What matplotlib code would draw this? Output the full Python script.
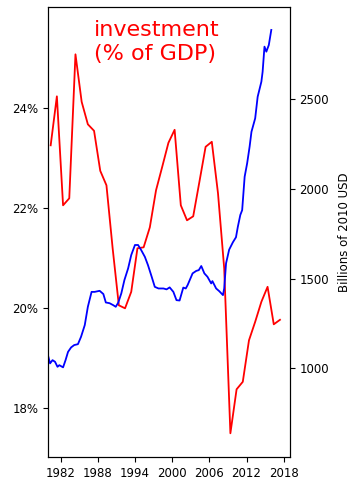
#!/usr/bin/env python3
"""Investment share of GDP (left, %) against real investment (right, billions of 2010 USD)."""

import matplotlib
matplotlib.use("Agg")
import matplotlib.pyplot as plt
from matplotlib.ticker import FuncFormatter

# annual investment, % of GDP
inv_years = list(range(1980, 2018))
inv_share = [
    23.26, 24.24, 22.06, 22.20, 25.08, 24.13, 23.68, 23.55, 22.75, 22.46,
    21.20, 20.06, 20.00, 20.33, 21.20, 21.22, 21.62, 22.36, 22.83, 23.31,
    23.57, 22.06, 21.76, 21.84, 22.53, 23.23, 23.33, 22.30, 20.80, 17.50,
    18.38, 18.53, 19.36, 19.73, 20.13, 20.43, 19.68, 19.77,
]

# investment level, billions of 2010 USD (read roughly quarterly)
lvl_years = [
    1980.0, 1980.3, 1980.7, 1981.1, 1981.5, 1981.8, 1982.4, 1982.8, 1983.2, 1983.7,
    1984.2, 1984.8, 1985.3, 1985.9, 1986.4, 1987.0, 1987.5, 1988.3, 1988.9, 1989.3,
    1989.9, 1990.5, 1990.9, 1991.3, 1991.8, 1992.3, 1992.9, 1993.4, 1994.0, 1994.5,
    1995.0, 1995.6, 1996.1, 1996.7, 1997.2, 1997.8, 1998.6, 1999.1, 1999.6, 2000.2,
    2000.7, 2001.2, 2001.8, 2002.2, 2002.5, 2003.3, 2003.9, 2004.3, 2004.7, 2005.2,
    2005.7, 2006.3, 2006.5, 2007.1, 2007.6, 2008.2, 2008.4, 2008.7, 2009.2, 2009.8,
    2010.3, 2010.6, 2011.0, 2011.3, 2011.7, 2012.1, 2012.5, 2012.8, 2013.4, 2013.8,
    2014.4, 2014.6, 2014.9, 2015.2, 2015.6, 2016.0,
]
lvl_values = [
    1068, 1028, 1046, 1037, 1009, 1018, 1006, 1046, 1092, 1117,
    1130, 1135, 1176, 1241, 1343, 1426, 1426, 1432, 1414, 1367,
    1363, 1352, 1343, 1366, 1418, 1492, 1557, 1631, 1687, 1687,
    1659, 1621, 1575, 1510, 1454, 1445, 1445, 1440, 1451, 1426,
    1380, 1378, 1450, 1445, 1464, 1529, 1543, 1547, 1570, 1529,
    1510, 1473, 1486, 1445, 1430, 1408, 1445, 1585, 1661, 1702,
    1730, 1788, 1854, 1881, 2067, 2141, 2234, 2317, 2392, 2512,
    2596, 2651, 2791, 2763, 2800, 2884,
]

x_ticks = [1982, 1988, 1994, 2000, 2006, 2012, 2018]
left_ticks = [18, 20, 22, 24]
right_ticks = [1000, 1500, 2000, 2500]


def main() -> None:
    fig = plt.figure(figsize=(3.57, 4.87), dpi=100)
    ax = fig.add_axes([0.135, 0.062, 0.677, 0.923])
    ax2 = ax.twinx()

    # annual points sit around mid-year
    ax.plot([y + 0.4 for y in inv_years], inv_share, color="red", lw=1.3)
    ax2.plot(lvl_years, lvl_values, color="blue", lw=1.3)

    ax.set_xlim(1980, 2019)
    ax.set_ylim(17.03, 26.02)
    ax2.set_ylim(508, 3010)

    ax.set_xticks(x_ticks)
    ax.set_yticks(left_ticks)
    ax.yaxis.set_major_formatter(FuncFormatter(lambda v, _: f"{v:.0f}%"))
    ax2.set_yticks(right_ticks)

    for a in (ax, ax2):
        a.tick_params(labelsize=8.5)
    ax2.set_ylabel("Billions of 2010 USD", fontsize=8.5, labelpad=6)

    fig.text(0.264, 0.958, "investment\n(% of GDP)", color="red", fontsize=16,
             ha="left", va="top", linespacing=1.25)

    fig.savefig("out.png", dpi=100)
    plt.close(fig)


if __name__ == "__main__":
    main()
